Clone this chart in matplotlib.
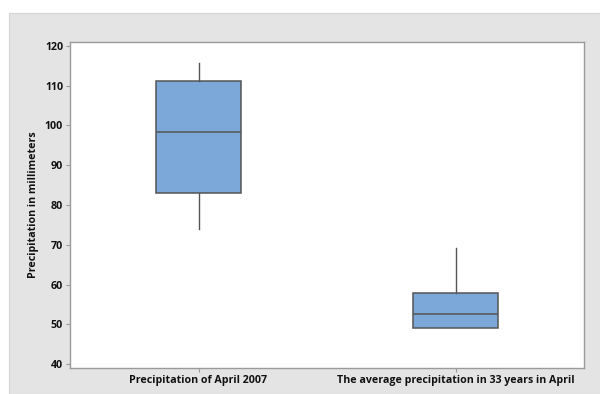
import matplotlib
matplotlib.use("Agg")
import matplotlib.pyplot as plt
from matplotlib.patches import Rectangle

categories = ["Precipitation of April 2007",
              "The average precipitation in 33 years in April"]
whisker_low = [74.0, 49.1]
q1 = [82.9, 49.1]
median = [98.4, 52.7]
q3 = [111.3, 57.8]
whisker_high = [115.7, 69.1]
yticks = [40, 50, 60, 70, 80, 90, 100, 110, 120]

plt.rcParams['font.family'] = ['Open Sans', 'DejaVu Sans']

fig = plt.figure(figsize=(6.0, 3.94), dpi=100)
fig.patch.set_facecolor('white')
# gray panel behind the plot
fig.patches.append(Rectangle((9 / 600, 0), 1 - 9 / 600, 1 - 13 / 394,
                             transform=fig.transFigure, facecolor='#e4e4e4',
                             edgecolor='#d4d4d4', lw=0.8, zorder=-5))

ax = fig.add_axes([70 / 600, 1 - 368 / 394, 514 / 600, 326 / 394])
ax.set_facecolor('white')

stats = []
for i, name in enumerate(categories):
    stats.append({'label': name, 'whislo': whisker_low[i], 'q1': q1[i],
                  'med': median[i], 'q3': q3[i], 'whishi': whisker_high[i],
                  'fliers': []})

edge = '#555555'
ax.bxp(stats, positions=[1, 2], widths=0.33, patch_artist=True,
       showcaps=False,
       boxprops=dict(facecolor='#7ba7d9', edgecolor=edge, linewidth=1.1),
       medianprops=dict(color=edge, linewidth=1.1),
       whiskerprops=dict(color=edge, linewidth=1.0))

ax.set_xlim(0.5, 2.5)
ax.set_ylim(39, 121)
ax.set_yticks(yticks)
ax.set_xticks([1, 2])
ax.set_xticklabels(categories)

for s in ax.spines.values():
    s.set_color('#9a9a9a')
    s.set_linewidth(1.0)

ax.tick_params(axis='both', colors='#9a9a9a', length=3, width=0.8,
               labelcolor='#111111', labelsize=7.7, pad=2)
for lbl in ax.get_xticklabels() + ax.get_yticklabels():
    lbl.set_fontweight('bold')

ax.set_ylabel("Precipitation in millimeters", fontsize=7.7,
              fontweight='bold', color='#111111', labelpad=4)

fig.savefig("out.png", dpi=100)
